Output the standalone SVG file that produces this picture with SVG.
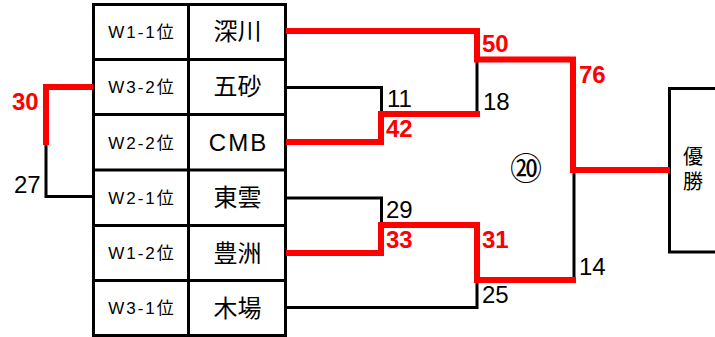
<svg xmlns="http://www.w3.org/2000/svg" width="715" height="337" viewBox="0 0 715 337">
<style>
.tb{fill:none;stroke:#000;stroke-width:3}
.bk{fill:none;stroke:#000;stroke-width:3;stroke-linejoin:miter}
.rd{fill:none;stroke:#ff0000;stroke-width:6;stroke-linejoin:miter;stroke-linecap:square}
.lab{font-family:"Liberation Sans","Noto Sans CJK JP",sans-serif;font-size:17px;letter-spacing:2px;text-anchor:middle;fill:#000}
.nm{font-family:"Noto Sans CJK JP","Liberation Sans",sans-serif;font-size:24px;text-anchor:middle;fill:#000}
.sc{font-family:"Liberation Sans",Arial,sans-serif;font-size:24px;fill:#000}
.sr{font-family:"Liberation Sans",Arial,sans-serif;font-size:24px;font-weight:bold;fill:#ff0000}
</style>
<g id="table">
<rect class="tb" x="93.5" y="4.5" width="192" height="331"/>
<line class="tb" x1="188.5" y1="4.5" x2="188.5" y2="335.5"/>
<line class="tb" x1="93.5" y1="59.5" x2="285.5" y2="59.5"/>
<line class="tb" x1="93.5" y1="114.5" x2="285.5" y2="114.5"/>
<line class="tb" x1="93.5" y1="170" x2="285.5" y2="170"/>
<line class="tb" x1="93.5" y1="225.5" x2="285.5" y2="225.5"/>
<line class="tb" x1="93.5" y1="280.5" x2="285.5" y2="280.5"/>
</g>
<g id="team1"><text class="lab" x="142" y="38">W1-1位</text><text class="nm" x="237.5" y="40">深川</text></g>
<g id="team2"><text class="lab" x="142" y="93">W3-2位</text><text class="nm" x="237.5" y="95">五砂</text></g>
<g id="team3"><text class="lab" x="142" y="148.5">W2-2位</text><text class="nm" x="238.5" y="150.5" style="font-family:'Liberation Sans',sans-serif;letter-spacing:2px">CMB</text></g>
<g id="team4"><text class="lab" x="142" y="203.5">W2-1位</text><text class="nm" x="237.5" y="206">東雲</text></g>
<g id="team5"><text class="lab" x="142" y="259">W1-2位</text><text class="nm" x="237.5" y="261.5">豊洲</text></g>
<g id="team6"><text class="lab" x="142" y="314">W3-1位</text><text class="nm" x="237.5" y="316.5">木場</text></g>
<g id="champion">
<path class="tb" d="M716 88.5 H669.5 V252 H716"/>
<text x="693" y="146" style="font-family:'Noto Sans CJK JP',sans-serif;font-size:20px;writing-mode:vertical-rl;letter-spacing:5px;fill:#000">優勝</text>
</g>
<g id="connectors">
<path class="bk" d="M46 142 V196.5 H93"/>
<path class="bk" d="M286 87.5 H381.5 V114"/>
<path class="bk" d="M477 59 V114"/>
<path class="bk" d="M286 198 H381.5 V225"/>
<path class="bk" d="M286 307.5 H477 V280"/>
<path class="bk" d="M574 170 V280"/>
<path class="rd" d="M46 142 V87 H90"/>
<path class="rd" d="M289 31 H477 V59.5 H573 V170 H667"/>
<path class="rd" d="M289 142 H381 V114 H477"/>
<path class="rd" d="M289 253 H381 V225 H477 V280 H573"/>
</g>
<g id="scores">
<text class="sr" x="12" y="110">30</text>
<text class="sc" x="14" y="193">27</text>
<text class="sc" x="387" y="107">11</text>
<text class="sr" x="386" y="137">42</text>
<text class="sc" x="483" y="110">18</text>
<text class="sr" x="482" y="52">50</text>
<text class="sr" x="579" y="83">76</text>
<text class="sc" x="386" y="218">29</text>
<text class="sr" x="386" y="248">33</text>
<text class="sr" x="482" y="248">31</text>
<text class="sc" x="482" y="303">25</text>
<text class="sc" x="579" y="275">14</text>
<text x="526" y="180" style="font-family:'Noto Sans CJK JP',sans-serif;font-size:32px;text-anchor:middle;fill:#000">⑳</text>
</g>
</svg>
